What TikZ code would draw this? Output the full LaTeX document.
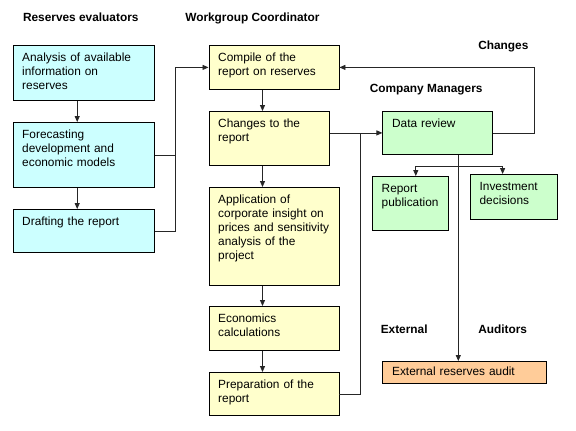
\documentclass[tikz,border=0pt]{standalone}
\usepackage{fontspec}
\setmainfont{Liberation Sans}
\usetikzlibrary{arrows.meta}
\definecolor{evalcyan}{HTML}{CCFFFF}
\definecolor{coordyellow}{HTML}{FFFFCC}
\definecolor{mgrgreen}{HTML}{CCFFCC}
\definecolor{auditorange}{HTML}{FFCC99}
\hyphenpenalty=10000
\exhyphenpenalty=10000
\tikzset{
    stage/.style={rectangle, draw=black, line width=0.6pt, anchor=north west, inner xsep=7pt, inner ysep=6pt, align=left, font=\fontsize{8.9}{10.5}\selectfont, text height=6.4pt},
    evalbox/.style={stage, fill=evalcyan},
    coordbox/.style={stage, fill=coordyellow},
    mgrbox/.style={stage, fill=mgrgreen},
    auditbox/.style={stage, fill=auditorange, inner ysep=4.5pt},
    heading/.style={anchor=west, inner sep=0pt, font=\fontsize{8.9}{10}\selectfont\bfseries, text height=6.4pt, text depth=0pt},
    link/.style={draw=black!85, line width=0.6pt},
    arrow/.style={link, -{Triangle[length=4.5pt, width=3.8pt]}}
}
\begin{document}
\begin{tikzpicture}[x=0.75pt, y=-0.75pt]
    \useasboundingbox (0,0) rectangle (576,430);
    % lane headings
    \node[heading] (evalhead) at (22.8,17.3) {Reserves evaluators};
    \node[heading] (coordhead) at (185,17.3) {Workgroup Coordinator};
    \node[heading] (changehead) at (478,45.3) {Changes};
    \node[heading] (mgrhead) at (369.5,88.7) {Company Managers};
    \node[heading] (exthead) at (380.5,329.7) {External};
    \node[heading] (audithead) at (478,329.7) {Auditors};
    % reserves evaluators
    \node[evalbox, text width=92.1pt, text depth=22.85pt] (analysis) at (12.5,45) {Analysis of available\\information on\\reserves};
    \node[evalbox, text width=92.1pt, text depth=30.35pt] (forecast) at (12.5,122) {Forecasting\\development and\\economic models};
    \node[evalbox, text width=92.1pt, text depth=13.85pt] (drafting) at (12.5,209) {Drafting the report};
    % workgroup coordinator
    \node[coordbox, text width=83.6pt, text depth=14.6pt] (compile) at (208.5,45) {Compile of the\\report on reserves};
    \node[coordbox, text width=76.15pt, text depth=22.1pt] (changes) at (208.5,111) {Changes to the\\report};
    \node[coordbox, text width=83.6pt, text depth=55.1pt] (insight) at (208.5,187) {Application of\\corporate insight on\\prices and sensitivity\\analysis of the\\project};
    \node[coordbox, text width=83.6pt, text depth=14.6pt] (economics) at (208.5,306) {Economics\\calculations};
    \node[coordbox, text width=83.6pt, text depth=13.85pt] (prepare) at (208.5,372) {Preparation of the\\report};
    % company managers
    \node[mgrbox, text width=68pt, text depth=13.85pt] (review) at (382.4,111) {Data review};
    \node[mgrbox, text width=42.85pt, text depth=22.1pt] (publish) at (372,176) {Report\\publication};
    \node[mgrbox, text width=51.3pt, text depth=15.35pt] (invest) at (469.9,174) {Investment\\decisions};
    % external auditors
    \node[auditbox, text width=108.7pt, text depth=1.1pt] (audit) at (382.4,361) {External reserves audit};
    % connector columns
    \coordinate (evalx) at (77.2,0);
    \coordinate (busx) at (175.7,0);
    \coordinate (midx) at (262.5,0);
    \coordinate (riserx) at (360.7,0);
    \coordinate (pubx) at (415.8,0);
    \coordinate (auditx) at (458.3,0);
    \coordinate (invx) at (502.6,0);
    \coordinate (loopx) at (534.3,0);
    \coordinate (fork) at (458.3,166);
    \draw[arrow] (evalx |- analysis.south) -- (evalx |- forecast.north);
    \draw[arrow] (evalx |- forecast.south) -- (evalx |- drafting.north);
    \draw[link] (forecast.east) -- (forecast.east -| busx);
    \draw[arrow] (drafting.east) -- (drafting.east -| busx) |- (compile.west);
    \draw[arrow] (midx |- compile.south) -- (midx |- changes.north);
    \draw[arrow] (midx |- changes.south) -- (midx |- insight.north);
    \draw[arrow] (midx |- insight.south) -- (midx |- economics.north);
    \draw[arrow] (midx |- economics.south) -- (midx |- prepare.north);
    \draw[arrow] (review.west -| changes.east) -- (review.west);
    \draw[link] (prepare.east) -- (prepare.east -| riserx) -- (riserx |- review.west);
    \draw[arrow] (review.east) -- (review.east -| loopx) |- (compile.east);
    \draw[arrow] (auditx |- review.south) -- (auditx |- audit.north);
    \draw[arrow] (fork) -| (pubx |- publish.north);
    \draw[arrow] (fork) -| (invx |- invest.north);
\end{tikzpicture}
\end{document}
